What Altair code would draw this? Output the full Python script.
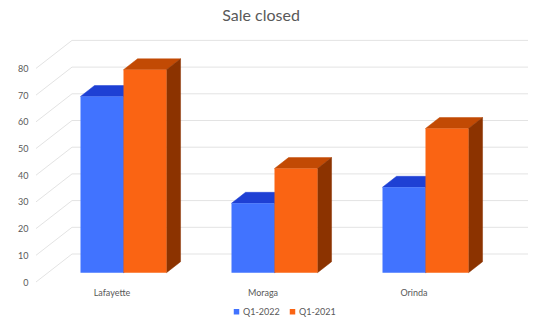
import json
import altair as alt
import pandas as pd

# ---------------- data ----------------
categories = ["Lafayette", "Moraga", "Orinda"]
series = ["Q1-2022", "Q1-2021"]
q1_2022 = [66, 26, 32]
q1_2021 = [76, 39, 54]
y_ticks = [0, 10, 20, 30, 40, 50, 60, 70, 80]

# ---------------- layout / style constants ----------------
W, H = 492, 246            # plot area in px
PX_X = 151.0               # px per category band
PX_Y = 2.67                # px per value unit
X_MAX = W / PX_X
Y_MAX = H / PX_Y
DEPTH_X = 36 / PX_X        # full floor depth, x component
DEPTH_Y = 28 / PX_Y        # full floor depth, y component
BAR_W = 43 / PX_X
FRONT_F = 1 / 3            # depth position of bar fronts
BAR_D = 0.39               # bar depth as fraction of floor depth

FRONT = {"Q1-2022": "#4173FF", "Q1-2021": "#FA6413"}
TOP = {"Q1-2022": "#1E40D4", "Q1-2021": "#C24A04"}
SIDE = {"Q1-2022": "#142C99", "Q1-2021": "#8C3300"}
GRID = "#E3E3E3"
TEXT = "#595959"
FONT = "Lato"

# ---------------- geometry tables ----------------
grid_rows = []
for v in y_ticks:
    grid_rows.append({"t": v, "o": 0, "x": 0.0, "y": v})
    grid_rows.append({"t": v, "o": 1, "x": DEPTH_X, "y": v + DEPTH_Y})
    grid_rows.append({"t": v, "o": 2, "x": X_MAX, "y": v + DEPTH_Y})
grid_df = pd.DataFrame(grid_rows)

front_rows, poly_rows = [], []
base = FRONT_F * DEPTH_Y
ddx = BAR_D * DEPTH_X
ddy = BAR_D * DEPTH_Y
for s_i, (s_name, vals) in enumerate(zip(series, [q1_2022, q1_2021])):
    for i, (cat, v) in enumerate(zip(categories, vals)):
        xl = i + 0.5 - BAR_W + s_i * BAR_W + FRONT_F * DEPTH_X
        xr = xl + BAR_W
        top = base + v
        front_rows.append({"series": s_name, "cat": cat, "x": xl, "x2": xr,
                           "y": base, "y2": top, "value": v})
        top_pts = [(xl, top), (xr, top), (xr + ddx, top + ddy), (xl + ddx, top + ddy)]
        side_pts = [(xr, base), (xr + ddx, base + ddy), (xr + ddx, top + ddy), (xr, top)]
        for face, pts in (("top", top_pts), ("side", side_pts)):
            for o, (px, py) in enumerate(pts):
                poly_rows.append({"series": s_name, "face": face,
                                  "pid": f"{s_name}-{cat}-{face}", "o": o, "x": px, "y": py})

front_df = pd.DataFrame(front_rows)
poly_df = pd.DataFrame(poly_rows)

# ---------------- scales / axes ----------------
xscale = alt.Scale(domain=[0, X_MAX], nice=False, zero=False)
yscale = alt.Scale(domain=[0, Y_MAX], nice=False, zero=False)
label_expr = json.dumps(categories) + "[floor(datum.value)]"
xaxis = alt.Axis(values=[0.5, 1.5, 2.5], labelExpr=label_expr, domain=False, ticks=False,
                 grid=False, labelPadding=6, labelFontSize=9, labelColor=TEXT,
                 labelFont=FONT, title=None, labelFlush=False)
yaxis = alt.Axis(values=y_ticks, domain=False, ticks=False, grid=False, labelPadding=8,
                 labelFontSize=9, labelColor=TEXT, labelFont=FONT, title=None,
                 labelFlush=False)


def X(field="x"):
    return alt.X(f"{field}:Q", scale=xscale, axis=xaxis)


def Y(field="y"):
    return alt.Y(f"{field}:Q", scale=yscale, axis=yaxis)


grid = alt.Chart(grid_df).mark_line(color=GRID, strokeWidth=1).encode(
    x=X(), y=Y(), detail="t:N", order="o:Q")


def faces(s_name, face, colors):
    df = poly_df[(poly_df.series == s_name) & (poly_df.face == face)]
    return alt.Chart(df).mark_line(
        filled=True, color=colors[s_name], stroke=colors[s_name], strokeWidth=0.5,
        interpolate="linear-closed").encode(
        x=X(), y=Y(), detail="pid:N", order="o:Q")


color = alt.Color("series:N", scale=alt.Scale(domain=series, range=[FRONT[s] for s in series]),
                  legend=alt.Legend(title=None, orient="none", direction="horizontal",
                                    legendX=196, legendY=271, symbolType="square",
                                    symbolSize=30, labelFontSize=9, labelColor=TEXT,
                                    labelFont=FONT, columnPadding=8, symbolOffset=0,
                                    labelOffset=2))


def fronts(s_name):
    return alt.Chart(front_df[front_df.series == s_name]).mark_rect().encode(
        x=X(), x2="x2:Q", y=Y(), y2="y2:Q", color=color)


layers = [grid]
for s_name in series:
    layers += [faces(s_name, "top", TOP), faces(s_name, "side", SIDE), fronts(s_name)]

chart = alt.layer(*layers).properties(
    width=W, height=H,
    padding={"left": 36, "top": 36, "right": 22, "bottom": 41},
    autosize=alt.AutoSizeParams(type="none"),
    background="white",
    title=alt.TitleParams("Sale closed", fontSize=16, font=FONT, color=TEXT,
                          fontWeight="normal", dx=-21, offset=12),
).configure_view(stroke=None)

chart.save("out.html", embed_options={"renderer": "svg", "actions": False})
